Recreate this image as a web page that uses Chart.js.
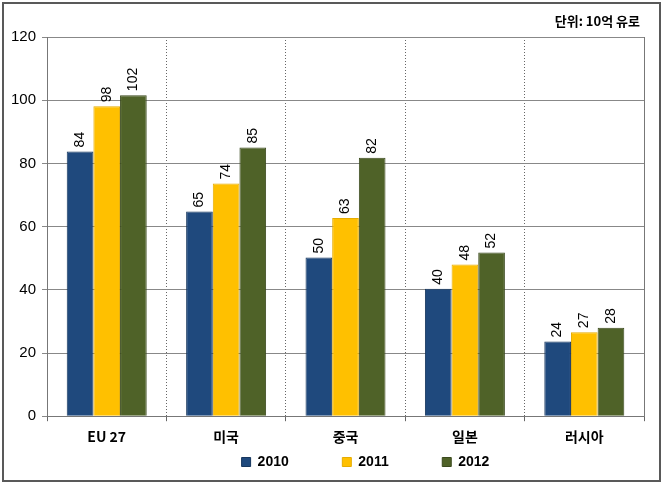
<!DOCTYPE html>
<html>
<head>
<meta charset="utf-8">
<script src="https://cdn.jsdelivr.net/npm/chart.js@4"></script>
<style>
  body { margin: 0; background: #fff; }
  #wrap { width: 663px; height: 484px; position: relative; }
</style>
</head>
<body>
<div id="wrap"><canvas id="myChart"></canvas></div>
<script>
// data
var countries = ['EU 27', '미국', '중국', '일본', '러시아']
var years = ['2010', '2011', '2012']
var v2010 = [83.8, 64.8, 50.2, 40.3, 23.6]
var v2011 = [98.1, 73.6, 62.7, 48.0, 26.6]
var v2012 = [101.6, 85.0, 81.8, 51.8, 28.0]
var yTicks = [0, 20, 40, 60, 80, 100, 120]
var unitText = '단위: 10억 유로'

var colors = ['#1F497D', '#FFC000', '#4F6228']
var edges = ['#17375E', '#E6AC00', '#3B4A1E']
var fontKo = "'Noto Sans CJK KR', 'Noto Sans', sans-serif"
var fontNum = "'Liberation Sans', Arial, sans-serif"

// frame + unit label + rotated values above bars
var extras = {
    id: 'extras',
    afterLayout: function (chart) {
        // legend sits a bit right of centre in the original
        if (chart.legend) {
            chart.legend.left += 41
            chart.legend.right += 41
        }
    },
    afterDraw: function (chart) {
        var ctx = chart.ctx
        ctx.save()
        ctx.strokeStyle = '#595959'
        ctx.lineWidth = 2
        ctx.strokeRect(3, 3, chart.width - 6, chart.height - 6)

        ctx.fillStyle = '#000'
        ctx.font = 'bold 13px ' + fontKo
        ctx.textAlign = 'right'
        ctx.textBaseline = 'middle'
        ctx.fillText(unitText, 640, 21)

        // plot border on the right side
        var a = chart.chartArea
        ctx.strokeStyle = '#777'
        ctx.lineWidth = 1
        ctx.beginPath()
        ctx.moveTo(Math.round(a.right) + 0.5, a.top)
        ctx.lineTo(Math.round(a.right) + 0.5, a.bottom)
        ctx.stroke()

        ctx.font = '14px ' + fontNum
        ctx.textAlign = 'left'
        ctx.textBaseline = 'middle'
        chart.data.datasets.forEach(function (ds, i) {
            var meta = chart.getDatasetMeta(i)
            meta.data.forEach(function (bar, j) {
                ctx.save()
                ctx.translate(bar.x, bar.y - 4)
                ctx.rotate(-Math.PI / 2)
                ctx.fillText(Math.round(ds.data[j]), 0, 0)
                ctx.restore()
            })
        })
        ctx.restore()
    }
}

var ctx = document.getElementById('myChart').getContext('2d')
var chart = new Chart(ctx, {
    type: 'bar',
    data: {
        labels: countries,
        datasets: [{
            label: years[0],
            data: v2010,
            backgroundColor: colors[0],
            borderColor: edges[0],
            borderWidth: 1
        },
        {
            label: years[1],
            data: v2011,
            backgroundColor: colors[1],
            borderColor: edges[1],
            borderWidth: 1
        },
        {
            label: years[2],
            data: v2012,
            backgroundColor: colors[2],
            borderColor: edges[2],
            borderWidth: 1
        }
        ]
    },
    options: {
        responsive: true,
        maintainAspectRatio: false,
        animation: false,
        layout: {
            padding: { top: 37, left: 5, right: 19, bottom: 5 }
        },
        datasets: {
            bar: { categoryPercentage: 0.67, barPercentage: 1.0 }
        },
        scales: {
            x: {
                offset: true,
                grid: {
                    offset: true,
                    color: '#666',
                    tickLength: 5
                },
                border: { color: '#777', dash: [1, 2] },
                ticks: {
                    color: '#000',
                    padding: 7,
                    font: { family: fontKo, size: 14, weight: 'bold' }
                }
            },
            y: {
                min: 0,
                max: 120,
                afterBuildTicks: function (axis) {
                    axis.ticks = yTicks.map(function (v) { return { value: v } })
                },
                grid: { color: '#888', tickLength: 5 },
                border: { color: '#777' },
                ticks: {
                    color: '#000',
                    padding: 6,
                    font: { family: fontNum, size: 15 }
                }
            }
        },
        plugins: {
            legend: {
                position: 'bottom',
                labels: {
                    boxWidth: 9,
                    boxHeight: 9,
                    padding: 3,
                    color: '#000',
                    font: { family: fontNum, size: 14, weight: 'bold' },
                    // trailing spaces give the wide gaps between items
                    generateLabels: function (chart) {
                        var items = Chart.defaults.plugins.legend.labels.generateLabels(chart)
                        items.forEach(function (it, k) {
                            if (k < items.length - 1) it.text = it.text + '             '
                        })
                        return items
                    }
                }
            },
            tooltip: { enabled: false }
        }
    },
    plugins: [extras]
})
</script>
</body>
</html>
